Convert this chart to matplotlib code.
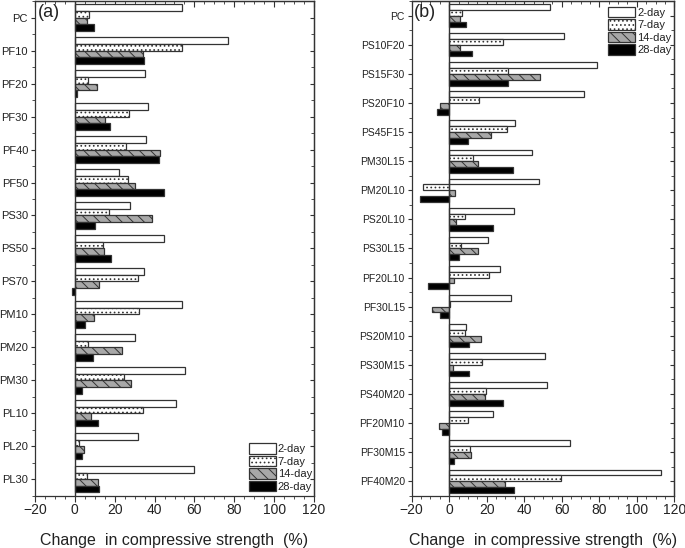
import numpy as np
import matplotlib
matplotlib.use("Agg")
import matplotlib.pyplot as plt
from matplotlib.ticker import MultipleLocator, FixedLocator, NullFormatter

plt.rcParams['font.family'] = ['Liberation Sans', 'DejaVu Sans']
plt.rcParams['hatch.linewidth'] = 0.7

# ages of the series
ages = ['2-day', '7-day', '14-day', '28-day']

# panel (a)
cats_a = ['PC', 'PF10', 'PF20', 'PF30', 'PF40', 'PF50', 'PS30', 'PS50', 'PS70',
          'PM10', 'PM20', 'PM30', 'PL10', 'PL20', 'PL30']
a_2day = [54, 77, 35.3, 36.7, 35.7, 22.3, 27.8, 44.7, 34.7, 53.8, 30.2, 55.2, 50.7, 31.7, 59.8]
a_7day = [7, 54, 6.7, 27.3, 25.5, 26.5, 17.2, 14.2, 31.7, 32.3, 6.8, 24.7, 34.2, 2.2, 6.3]
a_14day = [6, 34, 11, 15.3, 42.7, 30, 38.8, 14.8, 12.2, 9.8, 23.7, 28.2, 8, 4.7, 11.7]
a_28day = [9.6, 34.7, 1.2, 17.7, 42.3, 44.7, 10, 18, -1.3, 5, 9.2, 3.5, 11.7, 3.5, 12.2]

# panel (b)
cats_b = ['PC', 'PS10F20', 'PS15F30', 'PS20F10', 'PS45F15', 'PM30L15', 'PM20L10',
          'PS20L10', 'PS30L15', 'PF20L10', 'PF30L15', 'PS20M10', 'PS30M15',
          'PS40M20', 'PF20M10', 'PF30M15', 'PF40M20']
b_2day = [53.8, 61.3, 79, 71.6, 35.3, 44.4, 47.8, 34.5, 20.6, 27.2, 32.7, 9.2, 51.3,
          52.2, 23.1, 64.5, 113.1]
b_7day = [6.7, 28.8, 31.4, 16, 30.7, 12.8, -13.9, 8.5, 6.4, 21, 0.5, 8.5, 17.6,
          19.7, 10.1, 11.2, 59.5]
b_14day = [5.9, 6, 48.3, -5, 22.2, 15.6, 3.2, 3.7, 15.6, 2.7, -9.4, 17.2, 2.1,
           19, -5.7, 11.7, 30]
b_28day = [9.2, 12.1, 31.3, -6.4, 10, 34.1, -15.6, 23.6, 5.2, -11.2, -5, 10.7, 10.8,
           28.8, -3.6, 2.7, 34.5]

styles = [
    dict(facecolor='white', hatch=None),
    dict(facecolor='white', hatch='....'),
    dict(facecolor='#a8a8a8', hatch='\\\\\\'),
    dict(facecolor='black', hatch=None),
]
edge = '#333333'
text_col = '#222222'


def draw_panel(ax, cats, series, tag, ysize):
    y = np.arange(len(cats))
    h = 0.2
    offsets = [-0.3, -0.1, 0.1, 0.3]
    for vals, off, st, lab in zip(series, offsets, styles, ages):
        ax.barh(y + off, vals, height=h, color=st['facecolor'], hatch=st['hatch'],
                edgecolor=edge, linewidth=0.9, label=lab)
    ax.axvline(0, color='#333333', linewidth=1.0, zorder=3)
    ax.set_xlim(-20, 120)
    ax.set_ylim(len(cats) - 0.5, -0.5)
    ax.set_yticks(y)
    ax.set_yticklabels(cats)
    ax.xaxis.set_major_locator(MultipleLocator(20))
    ax.xaxis.set_minor_locator(MultipleLocator(5))
    ax.yaxis.set_minor_locator(MultipleLocator(0.5))
    ax.tick_params(axis='x', which='major', labelsize=10, length=4, width=0.8,
                   colors='#333333', labelcolor=text_col, pad=1.5)
    ax.tick_params(axis='x', which='minor', length=2, width=0.6, colors='#333333')
    ax.tick_params(axis='y', which='major', labelsize=ysize, length=3, width=0.8,
                   colors='#333333', labelcolor=text_col, pad=2)
    ax.tick_params(axis='y', which='minor', length=2, width=0.6, colors='#333333')
    for s in ax.spines.values():
        s.set_color('#333333')
        s.set_linewidth(0.9)

    # mirrored ticks on top and right, pointing inward
    top = ax.secondary_xaxis('top')
    top.xaxis.set_major_locator(MultipleLocator(20))
    top.xaxis.set_minor_locator(MultipleLocator(5))
    top.xaxis.set_major_formatter(NullFormatter())
    top.tick_params(which='major', direction='in', length=4, width=0.8, colors='#333333')
    top.tick_params(which='minor', direction='in', length=2, width=0.6, colors='#333333')
    right = ax.secondary_yaxis('right')
    right.yaxis.set_major_locator(FixedLocator(list(y)))
    right.yaxis.set_minor_locator(MultipleLocator(0.5))
    right.yaxis.set_major_formatter(NullFormatter())
    right.tick_params(which='major', direction='in', length=3, width=0.8, colors='#333333')
    right.tick_params(which='minor', direction='in', length=2, width=0.6, colors='#333333')
    for sec in (top, right):
        for s in sec.spines.values():
            s.set_color('#333333')
            s.set_linewidth(0.9)

    ax.set_xlabel('Change  in compressive strength  (%)', fontsize=11.5,
                  color=text_col, labelpad=11)
    ax.text(0.01, 0.995, tag, transform=ax.transAxes, fontsize=13, color=text_col,
            ha='left', va='top')


fig = plt.figure(figsize=(6.85, 5.48), dpi=100)
ax_a = fig.add_axes([35 / 685, 52.3 / 548, 279 / 685, 494.5 / 548])
ax_b = fig.add_axes([411.7 / 685, 52.3 / 548, 262.6 / 685, 494.5 / 548])

draw_panel(ax_a, cats_a, [a_2day, a_7day, a_14day, a_28day], '(a)', 8)
draw_panel(ax_b, cats_b, [b_2day, b_7day, b_14day, b_28day], '(b)', 7.5)

leg_kw = dict(frameon=False, fontsize=8, handlelength=2.4, handleheight=1.1,
              labelspacing=0.12, handletextpad=0.2, borderpad=0, borderaxespad=0,
              labelcolor=text_col)
ax_a.legend(loc='lower left', bbox_to_anchor=(0.767, 0.008), **leg_kw)
ax_b.legend(loc='upper left', bbox_to_anchor=(0.749, 0.989), **leg_kw)

fig.savefig('out.png', dpi=100)
